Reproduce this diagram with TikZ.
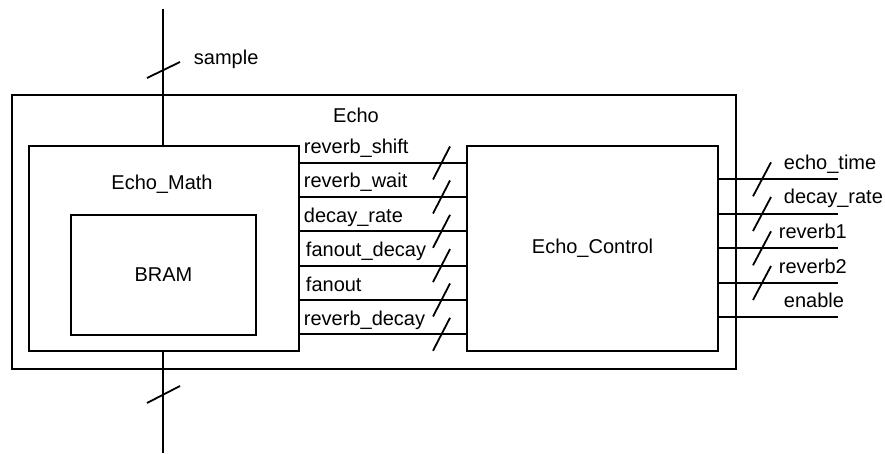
\documentclass[tikz,border=0pt]{standalone}
\usepackage{fontspec}
\setmainfont{Liberation Sans}
\begin{document}
\begin{tikzpicture}[x=1pt,y=-1pt,line width=1.9pt,
  every node/.style={font=\fontsize{20}{24}\selectfont},
  blockbox/.style={draw,line width=1.4pt,rectangle,inner sep=0,outer sep=0},
  lbl/.style={anchor=base west,inner sep=0},
  slashline/.style={line width=1.8pt}]
\useasboundingbox (0,0) rectangle (885,454);
% boxes
\node[blockbox,minimum width=724pt,minimum height=274pt] (echo) at (374,232) {};
\node[blockbox,minimum width=270pt,minimum height=205pt] (math) at (164,248.5) {};
\node[blockbox,minimum width=185pt,minimum height=120pt] (bram) at (163.5,275) {BRAM};
\node[blockbox,minimum width=251pt,minimum height=205pt] (ctrl) at (592.5,248.5) {Echo\_Control};
\node (echolbl) at (356,115.5) {Echo};
\node (mathlbl) at (162,184.5) {Echo\_Math};
% sample in / out
\coordinate (top) at (163,9);
\coordinate (bot) at (163,453);
\draw (top) -- (top |- math.north);
\draw (top |- math.south) -- (bot);
\draw[slashline] (147,78) -- (180,62);
\draw[slashline] (147,403) -- (180,386);
\node[lbl] (samplelbl) at (193,65) {sample};
% internal buses
\foreach \y/\t/\lx in {163/reverb\_shift/303,197/reverb\_wait/303,231.3/decay\_rate/303,265.6/fanout\_decay/305,300/fanout/305,334.3/reverb\_decay/303}{
  \draw (math.east |- 0,\y) -- (ctrl.west |- 0,\y);
  \draw[slashline] (433,\y+16.5) -- (450,\y-16.5);
  \node[lbl] at (\lx,\y-9) {\t};
}
% outputs
\foreach \y/\t/\lx/\s [count=\i] in {179.3/echo\_time/783/1,214/decay\_rate/783/1,248.3/reverb1/778/1,283/reverb2/778/1,317/enable/783/0}{
  \coordinate (out\i) at (838,\y);
  \draw (ctrl.east |- out\i) -- (out\i);
  \ifnum\s=1 \draw[slashline] (753,\y+17) -- (771,\y-17);\fi
  \node[lbl] at (\lx,\y-10) {\t};
}
\end{tikzpicture}
\end{document}
